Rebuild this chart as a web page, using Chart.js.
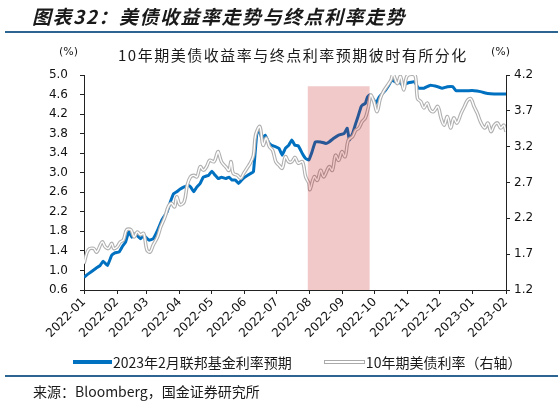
<!DOCTYPE html>
<html>
<head>
<meta charset="utf-8">
<script src="https://cdn.jsdelivr.net/npm/chart.js@4.4.0/dist/chart.umd.min.js"></script>
<style>
  html, body { margin: 0; padding: 0; background: #fff; }
  #wrap { position: relative; width: 558px; height: 406px; overflow: hidden; font-family: "Noto Sans CJK SC", sans-serif; color: #1a1a1a; }
  #chart { position: absolute; left: 0; top: 0; }
  .txt { position: absolute; white-space: nowrap; line-height: 1; }
  .rule { position: absolute; left: 5px; right: 0; height: 2px; background: #2d6592; }
  #title { left: 32px; top: 6px; font-size: 19px; font-weight: bold; font-style: italic; letter-spacing: 1.5px; }
  #subtitle { left: 118px; top: 47px; font-size: 15px; letter-spacing: 1.5px; }
  .unit { top: 46px; font-size: 11px; font-family: "DejaVu Sans", sans-serif; }
  #legend { position: absolute; left: 73px; top: 355px; display: flex; align-items: center; font-size: 14px; line-height: 1; }
  #legend .item { display: flex; align-items: center; margin-right: 32px; }
  #legend .blue { width: 39px; height: 3.5px; background: #0070c0; margin-right: 1px; }
  #legend .grey { width: 41px; height: 4px; border: 1px solid #aaa; background: #fff; box-sizing: border-box; margin-right: 1px; }
  #source { left: 33px; top: 384px; font-size: 14px; }
</style>
</head>
<body>
<div id="wrap">
  <canvas id="chart" width="558" height="406"></canvas>
  <div class="txt" id="title">图表32：美债收益率走势与终点利率走势</div>
  <div class="rule" style="top:31px"></div>
  <div class="txt" id="subtitle">10年期美债收益率与终点利率预期彼时有所分化</div>
  <div class="txt unit" style="left:59px">(%)</div>
  <div class="txt unit" style="left:491px">(%)</div>
  <div id="legend"></div>
  <div class="rule" style="top:375px"></div>
  <div class="txt" id="source">来源：Bloomberg，国金证券研究所</div>
</div>
<script>
// x 轴：自 2022-01-01 起的天数
const xTickDays = [0, 31, 59, 90, 120, 151, 181, 212, 243, 273, 304, 334, 365, 396];
const xTickLabels = ['2022-01', '2022-02', '2022-03', '2022-04', '2022-05', '2022-06', '2022-07',
                     '2022-08', '2022-09', '2022-10', '2022-11', '2022-12', '2023-01', '2023-02'];

const seriesNames = ['2023年2月联邦基金利率预期', '10年期美债利率（右轴）'];

// 2023年2月联邦基金利率预期（左轴）
const fedDays = [0, 4, 11, 15, 18, 22, 26, 29, 33, 36, 39, 42, 45, 48, 53, 56, 61, 65, 69, 73,
                 78, 81, 84, 87, 90, 94, 98, 100, 103, 106, 109, 112, 117, 120, 123, 126, 129, 133, 136, 139,
                 142, 145, 148, 151, 156, 159, 162, 164, 167, 170, 173, 176, 180, 183, 186, 189, 192, 195, 198, 201,
                 205, 208, 211, 214, 217, 222, 227, 230, 234, 239, 244, 247, 249, 252, 255, 257, 260, 261, 264, 266,
                 268, 271, 274, 277, 280, 283, 286, 289, 292, 296, 299, 303, 310, 314, 319, 325, 332, 336, 341, 346,
                 349, 354, 360, 366, 372, 379, 385, 391, 396];
const fedRates = [0.86, 0.93, 1.04, 1.10, 1.19, 1.10, 1.31, 1.36, 1.38, 1.49, 1.58, 1.79, 1.68, 1.75, 1.65, 1.72, 1.62, 1.65, 1.82, 2.03,
                  2.20, 2.40, 2.57, 2.61, 2.66, 2.71, 2.74, 2.71, 2.61, 2.71, 2.78, 2.91, 2.95, 3.03, 2.95, 2.88, 2.91, 2.88, 2.91, 2.85,
                  2.85, 2.78, 2.85, 2.91, 2.98, 3.02, 3.77, 3.91, 3.70, 3.77, 3.63, 3.56, 3.53, 3.50, 3.36, 3.50, 3.56, 3.67, 3.56, 3.55,
                  3.39, 3.29, 3.26, 3.43, 3.63, 3.63, 3.60, 3.63, 3.70, 3.77, 3.80, 3.91, 3.67, 3.80, 4.01, 4.14, 4.35, 4.38, 4.42, 4.55,
                  4.59, 4.52, 4.42, 4.55, 4.62, 4.69, 4.79, 4.90, 4.86, 4.86, 4.79, 4.83, 4.86, 4.73, 4.73, 4.79, 4.76, 4.73, 4.76, 4.76,
                  4.68, 4.68, 4.68, 4.68, 4.66, 4.62, 4.61, 4.61, 4.61];

// 10年期美债利率（右轴）
const ustDays = [0, 4, 9, 12, 17, 20, 23, 26, 28, 31, 34, 37, 40, 44, 47, 50, 53, 56, 59, 62,
                 65, 69, 72, 76, 79, 82, 85, 87, 90, 94, 97, 100, 103, 106, 109, 112, 115, 118, 122, 125,
                 126, 129, 133, 136, 138, 140, 144, 147, 150, 153, 156, 159, 161, 165, 168, 171, 174, 177, 180, 183,
                 186, 189, 192, 195, 198, 201, 205, 208, 211, 212, 216, 219, 222, 225, 230, 233, 236, 239, 242, 245,
                 248, 252, 255, 258, 261, 264, 267, 269, 272, 275, 278, 281, 285, 288, 290, 294, 297, 300, 303, 308,
                 311, 313, 316, 319, 322, 325, 328, 332, 335, 338, 341, 344, 347, 350, 354, 357, 360, 363, 366, 369,
                 372, 376, 379, 382, 385, 388, 391, 394, 396];
const ustYields = [1.57, 1.76, 1.78, 1.73, 1.87, 1.80, 1.78, 1.85, 1.78, 1.80, 1.87, 1.90, 2.04, 2.04, 1.94, 2.01, 1.97, 1.99, 1.76, 1.73,
                   1.83, 1.94, 2.08, 2.22, 2.36, 2.41, 2.36, 2.50, 2.39, 2.43, 2.67, 2.78, 2.80, 2.78, 2.92, 2.87, 2.92, 3.01, 2.99, 3.11,
                   3.13, 2.99, 2.92, 2.87, 2.99, 2.83, 2.80, 2.76, 2.83, 2.90, 2.97, 3.08, 3.36, 3.48, 3.22, 3.32, 3.20, 3.15, 2.99, 2.94,
                   2.90, 3.06, 2.99, 2.99, 3.05, 2.97, 2.99, 2.78, 2.69, 2.60, 2.78, 2.73, 2.87, 2.78, 2.92, 2.87, 3.08, 3.01, 3.13, 3.06,
                   3.29, 3.34, 3.43, 3.46, 3.55, 3.60, 3.76, 3.92, 3.83, 3.69, 3.87, 3.97, 4.06, 4.13, 4.21, 4.08, 4.18, 3.99, 4.18, 4.21,
                   4.18, 3.87, 3.83, 3.74, 3.81, 3.71, 3.69, 3.76, 3.60, 3.50, 3.62, 3.46, 3.60, 3.53, 3.67, 3.76, 3.85, 3.87, 3.76, 3.67,
                   3.55, 3.46, 3.53, 3.41, 3.50, 3.53, 3.46, 3.50, 3.41];

// 阴影区间（天数，左轴高度）
const bandFrom = 210;
const bandTo = 268;
const bandTop = 4.77;

const fedPoints = fedDays.map((d, i) => ({ x: d, y: fedRates[i] }));
const ustPoints = ustDays.map((d, i) => ({ x: d, y: ustYields[i] }));

// 半透明阴影画在线条上方
const bandPlugin = {
    id: 'band',
    afterDatasetsDraw(chart) {
        const { ctx, scales } = chart;
        const x1 = scales.x.getPixelForValue(bandFrom);
        const x2 = scales.x.getPixelForValue(bandTo);
        const top = scales.y.getPixelForValue(bandTop);
        const bottom = scales.y.getPixelForValue(scales.y.min);
        ctx.save();
        ctx.fillStyle = 'rgba(192, 0, 0, 0.21)';
        ctx.fillRect(x1, top, x2 - x1, bottom - top);
        ctx.restore();
    }
};

const tickFont = { family: 'DejaVu Sans', size: 12 };
const axisColor = '#222';

new Chart(document.getElementById('chart').getContext('2d'), {
    type: 'line',
    data: {
        datasets: [
            {
                label: seriesNames[0],
                data: fedPoints,
                yAxisID: 'y',
                borderColor: '#0070c0',
                borderWidth: 3,
                pointRadius: 0,
                tension: 0.1,
                order: 3
            },
            {
                label: seriesNames[1],
                data: ustPoints,
                yAxisID: 'y1',
                borderColor: '#b0b0b0',
                borderWidth: 3.6,
                pointRadius: 0,
                tension: 0.35,
                order: 2
            },
            {
                label: '',
                data: ustPoints,
                yAxisID: 'y1',
                borderColor: '#ffffff',
                borderWidth: 1.4,
                pointRadius: 0,
                tension: 0.35,
                order: 1
            }
        ]
    },
    options: {
        responsive: false,
        animation: false,
        layout: { padding: { top: 75, left: 0, right: 0, bottom: 56 } },
        plugins: {
            legend: { display: false },
            tooltip: { enabled: false }
        },
        scales: {
            x: {
                type: 'linear',
                min: 0,
                max: 396,
                afterBuildTicks: axis => { axis.ticks = xTickDays.map(v => ({ value: v })); },
                afterFit: scale => { scale.height = 60; },
                border: { color: axisColor, width: 1 },
                grid: { drawOnChartArea: false, drawTicks: true, tickLength: 4, color: axisColor },
                ticks: {
                    autoSkip: false,
                    minRotation: 45,
                    maxRotation: 45,
                    padding: 1,
                    color: '#111',
                    font: tickFont,
                    callback: (value, index) => xTickLabels[index]
                }
            },
            y: {
                position: 'left',
                min: 0.6,
                max: 5.0,
                afterFit: scale => { scale.width = 84; },
                border: { color: axisColor, width: 1 },
                grid: { drawOnChartArea: false, drawTicks: true, tickLength: 4, color: axisColor },
                ticks: { stepSize: 0.4, padding: 12, color: '#111', font: tickFont, callback: v => v.toFixed(1) }
            },
            y1: {
                position: 'right',
                min: 1.2,
                max: 4.2,
                afterFit: scale => { scale.width = 52; },
                border: { color: axisColor, width: 1 },
                grid: { drawOnChartArea: false, drawTicks: true, tickLength: 4, color: axisColor },
                ticks: { stepSize: 0.5, padding: 4, color: '#111', font: tickFont, callback: v => v.toFixed(1) }
            }
        }
    },
    plugins: [bandPlugin]
});

// 图例
const legend = document.getElementById('legend');
['blue', 'grey'].forEach((cls, i) => {
    const item = document.createElement('div');
    item.className = 'item';
    item.innerHTML = '<span class="' + cls + '"></span><span>' + seriesNames[i] + '</span>';
    legend.appendChild(item);
});
</script>
</body>
</html>
